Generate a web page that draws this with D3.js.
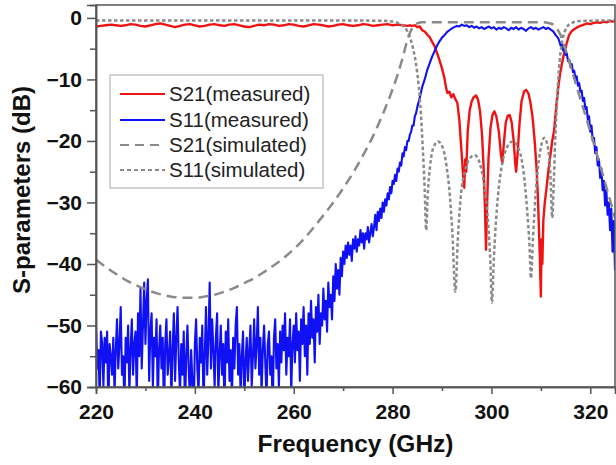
<!DOCTYPE html>
<html><head><meta charset="utf-8">
<script src="https://cdn.jsdelivr.net/npm/d3@7"></script>
<style>body{margin:0;background:#fff}svg{display:block}</style>
</head><body>
<svg id="c" width="616" height="465"></svg>
<script>
// ---- tick values ----
const xMajorTicks = [220, 240, 260, 280, 300, 320];
const xMinorTicks = [230, 250, 270, 290, 310];
const yMajorTicks = [-60, -50, -40, -30, -20, -10, 0];
const yMinorTicks = [-55, -45, -35, -25, -15, -5];
const legendLabels = ["S21(measured)", "S11(measured)", "S21(simulated)", "S11(simulated)"];

// ---- S11 measured (blue) : regularly sampled segments ----
const s11mStart1 = 220, s11mStep1 = 0.25;
const s11mVals1 = [
-50,-57,-54,-62,-51,-53,-60,-52, -56,-51,-64,-53,-55,-58,-52,-61,
-54,-49,-57,-53,-47,-58,-55,-63, -52,-56,-50,-61,-54,-49,-58,-53,
-51,-62,-48,-55,-44,-57,-50,-43, -53,-46,-42.5,-59,-51,-48,-60,-52,
-55,-49,-63,-54,-50,-57,-52,-65, -53,-49,-58,-55,-51,-62,-54,-48,
-59,-52,-47,-56,-61,-53,-58,-51, -64,-55,-50,-57,-62,-54,-59,-66,
-53,-49,-57,-61,-52,-56,-50,-63, -55,-47,-58,-52,-43,-57,-49,-54,
-60,-52,-48,-61,-55,-50,-58,-53, -64,-51,-56,-49,-59,-54,-62,-52,
-57,-50,-47,-58,-53,-61,-55,-51, -63,-56,-52,-59,-54,-50,-60,-55,
-49,-57,-53,-47,-58,-52,-61,-54, -50,-56,-62,-53,-51,-58,-55,-64,
-52,-49,-57,-53,-60,-51,-56,-50, -54,-48,-58,-52,-55,-49,-61,-53,
-50,-56,-48,-54,-51,-59,-49,-53, -47,-55,-50,-58,-48,-53,-46,-52,
-49,-56,-47,-51,-45,-53,-48,-50, -44,-49,-46,-51,-43,-47,-45,-49,
-42,-46,-40,-44,-41,-45,-39,-42, -38];
const s11mStart2 = 270.25, s11mStep2 = 0.25;
const s11mVals2 = [
-40,-37,-39,-36.5, -38.5,-37,-39.5,-36, -37.5,-35.5,-38,-36, -37,-34.5,-36.5,-35,
-37.5,-35,-36,-34, -36.5,-35,-33.5,-35.5, -34,-32,-34.5,-31.5, -33,-31,-32.5,-30,
-31.5,-29.5,-30.5,-28.5, -29.5,-27.5,-28.5,-26.5, -27,-25.5,-26.5,-24.5, -25,-23.5,-24,-22,
-22.5,-21,-21.5,-20, -20,-19,-18.5,-17.5, -17.5,-16,-15.5,-14.5];
const s11mStart3 = 285.5, s11mStep3 = 0.5;
const s11mVals3 = [
-13,-11.2,-10,-8.5,-7.4,-6.3,-5.4,-4.5,-3.8,-3.2,-2.8,-2.3,-2,-1.7,-1.5,-1.3,-1.4,-1.1,-1.3,-1.2,
-1.5,-1.3,-1.6,-1.4,-1.7,-1.5,-1.8,-1.6,-1.4,-1.7,-1.5,-1.9,-1.6,-1.8,-1.5,-1.7,-2,-1.6,-1.8,-1.5,
-1.9,-1.6,-1.8,-2.1,-1.7,-1.5,-1.8,-1.6,-1.9,-1.7,-1.5,-1.8,-1.6,-1.9,-2.2,-2.8];
const s11mStart4 = 313.5, s11mStep4 = 0.25;
const s11mVals4 = [
-3.3,-3.8,-4.5,-4.2,-5.3,-5,-6,-5.8,-7,-6.8,-8,-7.5,-8.8,-8.6,-9.8,-9.5,-11,-10.6,-12,-11.8,
-13.5,-13,-14.8,-14.5,-16.5,-16,-18.5,-17.5,-20,-19.5,-22,-21,-24,-23,-26,-24.5,-28,-26.5,
-30.5,-28,-32,-30,-34.5,-31,-38,-33,-41];

// ---- S21 measured (red) ----
const s21mStart1 = 220, s21mStep1 = 1;
const s21mVals1 = [
-1.4,-1.3,-1.2,-1.1,-1.2,-1.3,-1.2,-1.0,-1.1,-1.3,
-1.4,-1.2,-1.0,-0.9,-1.1,-1.3,-1.5,-1.3,-1.1,-1.0,
-1.2,-1.4,-1.3,-1.1,-1.0,-1.2,-1.3,-1.1,-1.0,-1.2,
-1.4,-1.5,-1.3,-1.1,-1.2,-1.0,-1.1,-1.3,-1.2,-1.0,
-1.1,-1.3,-1.4,-1.2,-1.0,-1.1,-1.2,-1.4,-1.3,-1.1,
-1.0,-1.2,-1.3,-1.2,-1.0,-1.1,-1.3,-1.2,-1.1,-1.0,
-1.2,-1.1,-1.2,-1.3];
const s21mBand = [
[283.5,-1.2],[284,-1.3],[284.5,-1.2],[285,-1.5],[285.5,-1.4],[286,-2],[286.5,-2.2],[287,-2.7],[287.5,-3.1],
[288,-3.9],[288.5,-4.6],[289,-5.7],[289.5,-6.9],[290,-8.2],[290.5,-9.8],[290.8,-11.3],[291.1,-12.2],[291.5,-12.0],
[291.9,-12.9],[292.3,-12.4],[292.7,-13.2],[293.1,-13.8],[293.5,-16.5],[293.8,-20],[294.1,-23.5],[294.3,-26],
[294.5,-27.6],[294.7,-23],[294.9,-25],[295.2,-18.5],[295.6,-15],[296,-13.6],[296.4,-12.9],[296.9,-12.6],
[297.3,-13.3],[297.7,-15.2],[298.1,-19],[298.4,-24],[298.7,-31],[298.9,-37.7],[299.1,-31],[299.4,-23],
[299.8,-18],[300.2,-15.8],[300.6,-15.2],[301,-16],[301.5,-18.5],[301.9,-22],[302.2,-23.6],[302.5,-20.5],
[302.9,-17],[303.3,-15.9],[303.7,-15.8],[304.1,-17],[304.5,-20],[304.8,-23.5],[305,-25],[305.3,-22],
[305.7,-17],[306.1,-13.5],[306.6,-12],[307,-11.7],[307.5,-12.3],[307.9,-13.8],[308.3,-16],[308.7,-19.5],
[309.1,-24],[309.4,-29],[309.6,-34],[309.8,-39],[310,-45.3],[310.15,-36],[310.3,-40],[310.5,-33],
[310.8,-30],[311.1,-28],[311.5,-25],[311.9,-22.5],[312.3,-20],[312.7,-18.2],[313.1,-14.5],[313.5,-11.5],
[313.9,-9],[314.3,-7.3],[314.7,-5.8],[315.2,-4.2],[315.7,-2.8],[316.2,-2.2],[316.8,-1.8],[317.4,-1.5],
[318,-1.3],[318.7,-1.1],[319.4,-0.9],[320,-1.0],[320.7,-0.8],[321.4,-0.7],[322,-0.8],[322.7,-0.6],
[323.4,-0.7],[324,-0.5],[324.6,-0.6],[325,-0.5]];

// ---- S21 simulated (long dashes) ----
const s21Sim = [
[220,-39.3],[222,-40.5],[224,-41.6],[226,-42.6],[228,-43.4],[230,-44.1],[232,-44.7],[234,-45.1],[236,-45.4],
[238,-45.5],[240,-45.5],[242,-45.3],[244,-45],[246,-44.5],[248,-43.9],[250,-43.1],[252,-42.3],[254,-41.3],
[256,-40.2],[258,-39],[260,-37.6],[262,-36],[264,-34.1],[266,-32.1],[268,-30],[270,-27.7],[272,-25.2],
[274,-22.4],[276,-19.3],[278,-15.7],[280,-11.6],[281,-9.3],[282,-6.6],[283,-3.6],[284,-1.6],[285,-0.9],
[286,-0.7],[290,-0.7],[300,-0.7],[310,-0.7],[312,-0.9],[313,-1.5],[314,-2.8],[315,-5.2],[316,-7.8],
[317,-10.5],[318,-13.2],[319,-15.8],[320,-18.5],[321,-21.2],[322,-24],[323,-26.8],[324,-29.6],[325,-32.5]];

// ---- S11 simulated (short dashes) ----
const s11Sim = [
[220,-0.4],[250,-0.4],[278,-0.45],[280,-0.6],[281,-0.8],[282,-1.2],[283,-2.2],[284,-4.5],[285,-9],
[285.6,-14],[286.1,-21],[286.5,-28],[286.8,-34.5],[287.1,-29],[287.6,-24],[288.3,-21],[289.2,-20.1],
[290.1,-21],[290.9,-24],[291.6,-29],[292.1,-35],[292.7,-44.5],[293.2,-36],[293.8,-29],[294.6,-25],
[295.5,-23],[296.6,-22.3],[297.6,-23.5],[298.5,-27],[299.3,-33],[299.8,-40],[300.1,-46.3],[300.5,-39],
[301.1,-31],[301.9,-25],[302.9,-21.5],[304.3,-20.1],[305.6,-21.5],[306.5,-25],[307.2,-31],[307.7,-37],
[308,-42.3],[308.4,-36],[309,-28],[309.8,-22],[310.7,-19.5],[311.4,-21],[311.9,-25],[312.3,-32.5],
[312.6,-27],[312.9,-20],[313.3,-13],[313.8,-7],[314.4,-3.5],[315.2,-1.6],[316.3,-0.8],[318,-0.5],[325,-0.4]];

// ---- build point lists ----
function grid(start, step, vals){ return vals.map((v,i)=>[start+i*step, v]); }
const s11Meas = [].concat(
  grid(s11mStart1, s11mStep1, s11mVals1),
  grid(s11mStart2, s11mStep2, s11mVals2),
  grid(s11mStart3, s11mStep3, s11mVals3),
  grid(s11mStart4, s11mStep4, s11mVals4));
const s21Meas = [].concat(grid(s21mStart1, s21mStep1, s21mVals1), s21mBand);

// ---- layout ----
const svg = d3.select("#c");
const L = 96, R = 615, T = 5, B = 387;
const x = d3.scaleLinear().domain([220, 325]).range([L, R]);
const y = d3.scaleLinear().domain([-60, 2.1]).range([B, T]);
const FONT = "'Liberation Sans', Arial, Helvetica, sans-serif";

svg.append("defs").append("clipPath").attr("id","clip")
  .append("rect").attr("x",L).attr("y",T).attr("width",R-L).attr("height",B-T);

const line = d3.line().x(d=>x(d[0])).y(d=>y(d[1]));
const smooth = d3.line().x(d=>x(d[0])).y(d=>y(d[1])).curve(d3.curveMonotoneX);
const plot = svg.append("g").attr("clip-path","url(#clip)");

plot.append("path").datum(s21Meas).attr("d",line)
  .attr("fill","none").attr("stroke","#f01212").attr("stroke-width",2.4).attr("stroke-linejoin","round");
plot.append("path").datum(s11Meas).attr("d",line)
  .attr("fill","none").attr("stroke","#1010f5").attr("stroke-width",2.1).attr("stroke-linejoin","round");
plot.append("path").datum(s21Sim).attr("d",smooth)
  .attr("fill","none").attr("stroke","#8a8a8a").attr("stroke-width",2.5).attr("stroke-dasharray","10,6");
plot.append("path").datum(s11Sim).attr("d",smooth)
  .attr("fill","none").attr("stroke","#8a8a8a").attr("stroke-width",2.5).attr("stroke-dasharray","3.5,2.5");

// ---- frame ----
const frameColor = "#555";
svg.append("rect").attr("x",L).attr("y",T).attr("width",R-L).attr("height",B-T)
  .attr("fill","none").attr("stroke",frameColor).attr("stroke-width",1.5);

// ---- axes ----
const xAxis = svg.append("g").attr("transform",`translate(0,${B})`)
  .call(d3.axisBottom(x).tickValues(xMajorTicks).tickSize(7).tickPadding(10).tickFormat(d3.format("d")));
const xMinor = svg.append("g").attr("transform",`translate(0,${B})`)
  .call(d3.axisBottom(x).tickValues(xMinorTicks).tickSize(4).tickFormat(""));
const yAxis = svg.append("g").attr("transform",`translate(${L},0)`)
  .call(d3.axisLeft(y).tickValues(yMajorTicks).tickSize(9).tickPadding(5).tickFormat(d3.format("d")));
const yMinor = svg.append("g").attr("transform",`translate(${L},0)`)
  .call(d3.axisLeft(y).tickValues(yMinorTicks).tickSize(6).tickFormat(""));
[xAxis,xMinor,yAxis,yMinor].forEach(g=>{
  g.select(".domain").attr("stroke",frameColor).attr("stroke-width",1.5);
  g.selectAll(".tick line").attr("stroke",frameColor).attr("stroke-width",1.5);
  g.selectAll("text").attr("font-family",FONT).attr("font-size",21).attr("font-weight","bold").attr("fill","#111");
});

// ---- axis titles ----
svg.append("text").attr("x",(L+R)/2).attr("y",452).attr("text-anchor","middle")
  .attr("font-family",FONT).attr("font-size",24.5).attr("font-weight","bold").attr("fill","#111")
  .text("Frequency (GHz)");
svg.append("text").attr("transform","translate(30,190) rotate(-90)").attr("text-anchor","middle")
  .attr("font-family",FONT).attr("font-size",24).attr("font-weight","bold").attr("fill","#111")
  .text("S-parameters (dB)");

// ---- legend ----
const lg = svg.append("g");
lg.append("rect").attr("x",110).attr("y",75).attr("width",213).attr("height",113)
  .attr("fill","#fff").attr("stroke","#a8a8a8").attr("stroke-width",1);
const legStyles = [
  {c:"#f01212", w:2.2, dash:null},
  {c:"#1010f5", w:2.2, dash:null},
  {c:"#8a8a8a", w:2.2, dash:"9,6"},
  {c:"#8a8a8a", w:2.2, dash:"4,3"}];
const legY = [94, 120, 145, 170];
legendLabels.forEach((t,i)=>{
  const ln = lg.append("line").attr("x1",120).attr("x2",165).attr("y1",legY[i]).attr("y2",legY[i])
    .attr("stroke",legStyles[i].c).attr("stroke-width",legStyles[i].w);
  if (legStyles[i].dash) ln.attr("stroke-dasharray",legStyles[i].dash);
  lg.append("text").attr("x",169).attr("y",legY[i]).attr("dy","0.36em")
    .attr("font-family",FONT).attr("font-size",20.5).attr("fill","#222").text(t);
});
</script>
</body></html>
